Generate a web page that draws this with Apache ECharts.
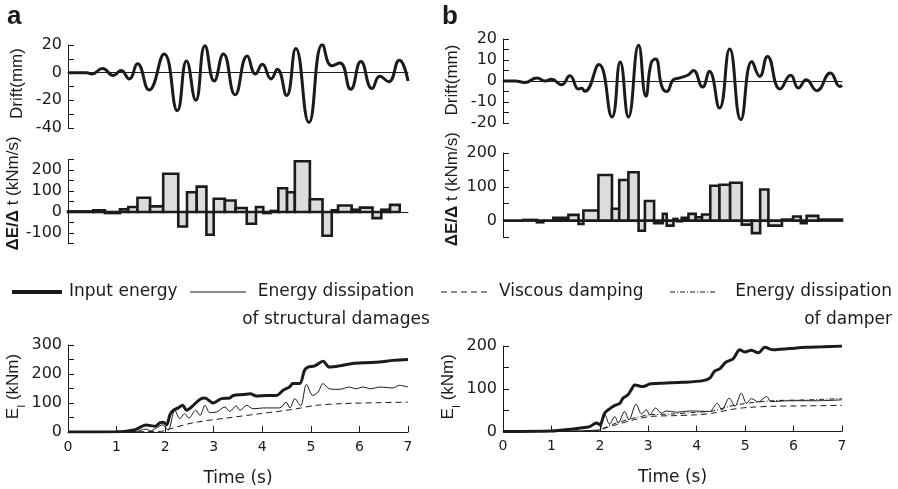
<!DOCTYPE html>
<html>
<head>
<meta charset="utf-8">
<script src="https://cdn.jsdelivr.net/npm/echarts@6/dist/echarts.min.js"></script>
<style>
  html, body { margin: 0; padding: 0; background: #fff; }
  #chart { width: 898px; height: 489px; }
</style>
</head>
<body>
<div id="chart"></div>
<script>
// drift time histories (peaks / troughs)
const driftTimeA = [0, 0.38, 0.49, 0.71, 0.93, 1.09, 1.26, 1.43, 1.67, 1.98, 2.25, 2.44, 2.63, 2.82, 3.01, 3.20, 3.44, 3.69, 3.86, 4.00, 4.18, 4.31, 4.50, 4.69, 4.96, 5.24, 5.43, 5.60, 5.82, 6.03, 6.26, 6.42, 6.60, 6.82, 7.0];
const driftA = [0, 0, -1, 3, -2, 1.5, -4.5, 6.5, -12.5, 13.5, -27.5, 8.5, -20, 19.5, -6, 13.5, -16, 12, -1, 6, -4.5, 2.5, -16.5, 17.5, -36, 20.5, 5, 7, -12, 8, -11.5, -2.5, -6.5, 9, -6];
const driftTimeB = [0, 0.25, 0.45, 0.70, 0.87, 1.0, 1.21, 1.38, 1.56, 1.62, 1.69, 1.98, 2.25, 2.42, 2.59, 2.80, 2.95, 3.06, 3.15, 3.28, 3.38, 3.52, 3.65, 3.83, 3.93, 4.12, 4.26, 4.47, 4.68, 4.91, 5.14, 5.30, 5.46, 5.72, 5.94, 6.10, 6.26, 6.48, 6.76, 6.96, 7.0];
const driftB = [0, 0, -0.7, 1.4, 0, 0.8, -1.8, 2.5, -3.8, -3.5, -4.9, 7.8, -17.1, 9, -17.1, 17, -7.3, 8.6, 10.5, -2.6, -5, 0.6, 1.5, 3, 5, -2.9, 4.6, -12.9, 15.2, -18.4, 9.3, 2.2, 11.7, -3.8, 2.7, -3.3, 0.6, -4.6, 3.8, -2.6, -2];

// energy rate bars: edges (s) and values (kNm/s)
const barEdgesA = [0, 0.52, 0.76, 1.07, 1.24, 1.43, 1.69, 1.96, 2.27, 2.45, 2.65, 2.85, 3.0, 3.23, 3.45, 3.68, 3.87, 4.02, 4.17, 4.33, 4.51, 4.67, 4.98, 5.24, 5.43, 5.56, 5.84, 6.01, 6.27, 6.45, 6.63, 6.83];
const barValA = [3, 8, -5, 13, 24, 68, 27, 182, -69, 94, 121, -108, 63, 55, 19, -56, 24, -5, 5, 113, 94, 242, 61, -113, 8, 31, 11, 21, -29, 11, 34];
const barEdgesB = [0, 0.42, 0.70, 0.83, 1.04, 1.35, 1.56, 1.66, 1.97, 2.25, 2.40, 2.59, 2.80, 2.93, 3.12, 3.30, 3.38, 3.52, 3.60, 3.69, 3.83, 3.98, 4.11, 4.28, 4.47, 4.69, 4.93, 5.14, 5.31, 5.48, 5.76, 5.99, 6.15, 6.27, 6.51, 7.0];
const barValB = [0, 2, -5, 0, 8, 17, -10, 30, 135, 35, 120, 143, -30, 58, -8, 20, -15, 5, -2, 8, 20, 10, 18, 103, 106, 112, -12, -37, 92, -15, 3, 12, -8, 14, 3];

// cumulative energies (kNm)
const inputTimeA = [0, 1.0, 1.2, 1.4, 1.6, 1.8, 1.89, 1.96, 2.03, 2.1, 2.17, 2.27, 2.36, 2.44, 2.58, 2.72, 2.82, 2.99, 3.16, 3.33, 3.40, 3.61, 3.75, 3.88, 4.09, 4.29, 4.43, 4.56, 4.63, 4.77, 4.87, 4.94, 5.08, 5.25, 5.38, 5.59, 5.86, 6.14, 6.41, 6.69, 7.0];
const inputA = [0, 1, 3, 9, 24, 20, 32, 34, 25, 60, 75, 83, 92, 75, 92, 113, 117, 100, 115, 117, 126, 129, 132, 124, 126, 126, 144, 155, 167, 167, 213, 224, 228, 244, 224, 228, 236, 239, 241, 247, 250];
const structTimeA = [0, 1.4, 1.6, 1.7, 1.8, 1.95, 2.06, 2.20, 2.30, 2.40, 2.49, 2.63, 2.72, 2.82, 2.92, 3.06, 3.23, 3.33, 3.46, 3.54, 3.68, 3.81, 4.02, 4.36, 4.49, 4.57, 4.67, 4.79, 4.91, 5.04, 5.15, 5.25, 5.38, 5.59, 5.79, 5.93, 6.07, 6.24, 6.41, 6.69, 6.82, 7.0];
const structA = [0, 2, 10, 4, 12, 25, 6, 75, 46, 63, 48, 75, 57, 92, 67, 69, 86, 71, 90, 75, 92, 80, 83, 83, 103, 83, 115, 90, 164, 126, 138, 167, 149, 147, 155, 149, 155, 149, 155, 152, 161, 155];
const viscTimeA = [0, 1.9, 2.1, 2.58, 3.26, 3.95, 4.63, 5.11, 5.66, 6.35, 7.0];
const viscA = [0, 2, 11, 32, 48, 63, 78, 92, 98, 101, 103];

const inputTimeB = [0, 1.0, 1.45, 1.73, 1.80, 1.93, 2.0, 2.10, 2.20, 2.31, 2.41, 2.48, 2.58, 2.65, 2.72, 2.89, 3.03, 3.30, 3.72, 4.13, 4.27, 4.37, 4.48, 4.60, 4.75, 4.89, 4.99, 5.13, 5.27, 5.41, 5.58, 5.92, 6.27, 6.61, 7.0];
const inputB = [0, 1, 6, 10, 12, 20, 16, 43, 53, 61, 66, 78, 86, 98, 109, 105, 111, 113, 115, 119, 125, 141, 147, 162, 170, 191, 186, 190, 184, 197, 191, 194, 197, 198, 200];
const structTimeB = [0, 1.5, 1.9, 2.0, 2.10, 2.20, 2.31, 2.38, 2.51, 2.60, 2.75, 2.86, 2.96, 3.03, 3.15, 3.27, 3.37, 3.58, 3.86, 4.27, 4.42, 4.52, 4.67, 4.79, 4.92, 5.03, 5.13, 5.27, 5.44, 5.54, 5.92, 6.47, 7.0];
const structB = [0, 1, 3, 4, 41, 17, 35, 20, 47, 27, 64, 41, 51, 39, 55, 43, 48, 45, 48, 47, 66, 51, 78, 59, 90, 66, 77, 69, 82, 70, 72, 72, 74];
const dissTimeB = [0, 1.9, 2.0, 2.34, 2.69, 3.03, 3.51, 3.99, 4.34, 4.68, 5.03, 5.58, 6.27, 7.0];
const viscB = [0, 1, 4, 16, 27, 35, 37, 39, 43, 51, 56, 59, 60, 61];
const damperB = [0, 1, 4, 20, 31, 39, 41, 45, 48, 59, 66, 72, 74, 77];

const INK = '#1b1b1b';
const LBL = 'DejaVu Sans';
const NAME = 'Liberation Sans';

const zip = (ts, vs) => ts.map((t, i) => [t, vs[i]]);
const bars = (edges, vals) => vals.map((v, i) => [edges[i], edges[i + 1], v]);

const chart = echarts.init(document.getElementById('chart'));

const grids = [
  { left: 68, top: 45, width: 340, height: 83 },
  { left: 68, top: 159.5, width: 340, height: 84 },
  { left: 68, top: 345, width: 340, height: 87 },
  { left: 503, top: 39, width: 339, height: 84 },
  { left: 503, top: 153, width: 339, height: 84.5 },
  { left: 503, top: 346, width: 339, height: 85.5 }
];

function xAxisFor(i, bottom) {
  return {
    type: 'value', gridIndex: i, min: 0, max: 7, interval: 1,
    axisLine: { show: true, onZero: true, lineStyle: { color: INK, width: 1 } },
    axisTick: { show: bottom, inside: true, length: 6, lineStyle: { color: INK } },
    axisLabel: { show: bottom, color: INK, fontFamily: LBL, fontSize: 14, margin: 8 },
    splitLine: { show: false },
    name: bottom ? 'Time (s)' : '', nameLocation: 'middle', nameGap: 38,
    nameTextStyle: { color: INK, fontFamily: LBL, fontSize: 17 }
  };
}

// shift: pushes the rotated name up the axis (px)
function yAxisFor(i, min, max, step, every, name, shift) {
  return {
    type: 'value', gridIndex: i, min: min, max: max, interval: step,
    axisLine: { show: true, onZero: false, lineStyle: { color: INK, width: 1 } },
    axisTick: { show: true, inside: true, length: 6, lineStyle: { color: INK } },
    axisLabel: {
      color: INK, fontFamily: LBL, fontSize: 16, margin: 6,
      formatter: v => (v % every === 0 ? String(v) : '')
    },
    splitLine: { show: false },
    name: name, nameLocation: 'middle', nameGap: 42,
    nameTextStyle: {
      color: INK, fontFamily: NAME, fontSize: 17,
      padding: [0, 0, 0, shift * 2],
      rich: {
        b: { fontFamily: NAME, fontSize: 17, fontWeight: 'bold', color: INK },
        s: { fontFamily: NAME, fontSize: 11, color: INK, verticalAlign: 'bottom', padding: [0, 0, -6, 0] }
      }
    }
  };
}

function lineSeries(axis, data, width, type, smooth) {
  return {
    type: 'line', xAxisIndex: axis, yAxisIndex: axis, data: data,
    showSymbol: false, smooth: smooth, animation: false,
    lineStyle: { color: INK, width: width, type: type }
  };
}

function barSeries(axis, data) {
  return {
    type: 'custom', xAxisIndex: axis, yAxisIndex: axis, data: data, animation: false,
    renderItem: (params, api) => {
      const p0 = api.coord([api.value(0), api.value(2)]);
      const p1 = api.coord([api.value(1), 0]);
      return {
        type: 'rect',
        shape: { x: p0[0], y: Math.min(p0[1], p1[1]), width: p1[0] - p0[0], height: Math.abs(p1[1] - p0[1]) },
        style: { fill: '#dcdcdc', stroke: INK, lineWidth: 2.6 }
      };
    }
  };
}

const yName = ['Drift(mm)', '{b|ΔE/Δ} t (kNm/s)', 'E{s|I} (kNm)'];

// legend drawn as graphic (shared across both columns)
const legendY1 = 292, legendY2 = 320;
const legendText = (x, y, text, align) => ({
  type: 'text', x: x, y: y,
  style: { text: text, fill: INK, font: '17px "DejaVu Sans"', textAlign: align, textVerticalAlign: 'middle' }
});
const legendLine = (x1, x2, w, dash) => ({
  type: 'line', shape: { x1: x1, y1: legendY1, x2: x2, y2: legendY1 },
  style: { stroke: INK, lineWidth: w, lineDash: dash }
});

chart.setOption({
  backgroundColor: '#fff',
  animation: false,
  grid: grids,
  xAxis: [xAxisFor(0, false), xAxisFor(1, false), xAxisFor(2, true),
          xAxisFor(3, false), xAxisFor(4, false), xAxisFor(5, true)],
  yAxis: [
    yAxisFor(0, -40, 20, 10, 20, yName[0], 3),
    yAxisFor(1, -150, 250, 50, 100, yName[1], 8),
    yAxisFor(2, 0, 300, 50, 100, yName[2], 2),
    yAxisFor(3, -20, 20, 5, 10, yName[0], 1),
    yAxisFor(4, -50, 200, 50, 100, yName[1], 6),
    yAxisFor(5, 0, 200, 50, 100, yName[2], 2)
  ],
  series: [
    lineSeries(0, zip(driftTimeA, driftA), 3, 'solid', 0.5),
    barSeries(1, bars(barEdgesA, barValA)),
    lineSeries(2, zip(viscTimeA, viscA), 1, [6, 4], 0.3),
    lineSeries(2, zip(structTimeA, structA), 1, 'solid', 0.3),
    lineSeries(2, zip(inputTimeA, inputA), 3, 'solid', 0.3),
    lineSeries(3, zip(driftTimeB, driftB), 3, 'solid', 0.5),
    barSeries(4, bars(barEdgesB, barValB)),
    lineSeries(5, zip(dissTimeB, viscB), 1, [6, 4], 0.3),
    lineSeries(5, zip(dissTimeB, damperB), 1, [5, 2, 1, 2], 0.3),
    lineSeries(5, zip(structTimeB, structB), 1, 'solid', 0.3),
    lineSeries(5, zip(inputTimeB, inputB), 3, 'solid', 0.3)
  ],
  graphic: [
    { type: 'text', x: 7, y: 4, style: { text: 'a', fill: INK, font: 'bold 26px "Liberation Sans"' } },
    { type: 'text', x: 442, y: 4, style: { text: 'b', fill: INK, font: 'bold 26px "Liberation Sans"' } },
    legendLine(12, 62, 4, null),
    legendText(69, legendY1, 'Input energy', 'left'),
    legendLine(190, 246, 1, null),
    legendText(336, legendY1, 'Energy dissipation', 'center'),
    legendText(336, legendY2, 'of structural damages', 'center'),
    legendLine(441, 489, 1, [6, 4]),
    legendText(499, legendY1, 'Viscous damping', 'left'),
    legendLine(670, 717, 1, [5, 2, 1, 2]),
    legendText(892, legendY1, 'Energy dissipation', 'right'),
    legendText(892, legendY2, 'of damper', 'right')
  ]
});
</script>
</body>
</html>
